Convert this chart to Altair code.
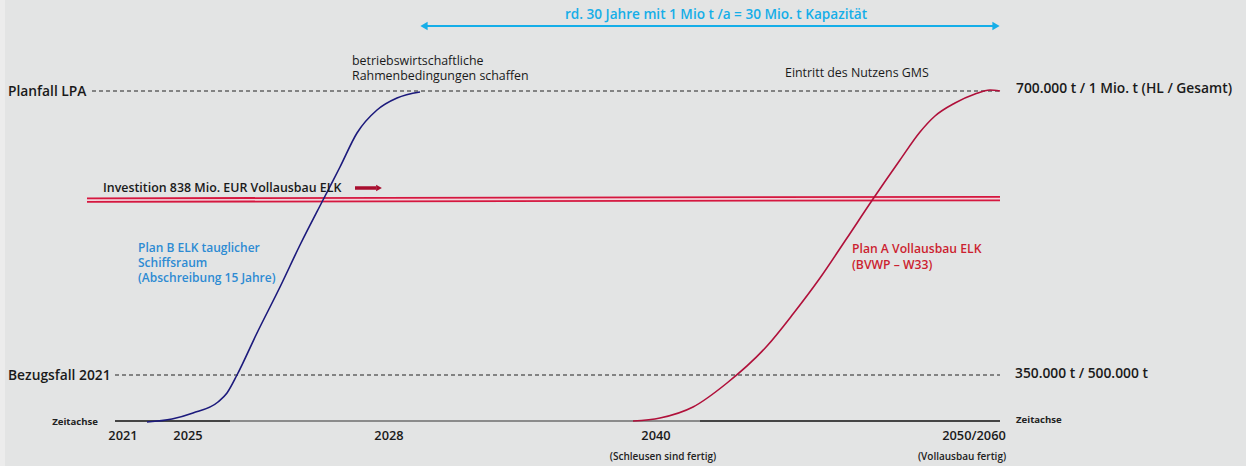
import altair as alt
import pandas as pd

# schematic coordinates (timeline units across, level units down)
planB_x = [147, 172, 193, 218, 227, 237, 257, 280, 300, 323, 340, 357, 377, 397, 420]
planB_y = [422, 419, 413, 402, 393, 375, 333, 287, 245, 200, 167, 133, 110, 98, 92]
planA_x = [633, 660, 693, 727, 767, 793, 820, 847, 873, 900, 920, 935, 955, 975, 990, 1000]
planA_y = [421, 418, 407, 383, 346, 314, 278, 238, 199, 160, 132, 116, 103, 94, 90, 91]

level_names = ["Planfall LPA", "Bezugsfall 2021"]
level_pos = [91, 375]
level_right = ["700.000 t / 1 Mio. t (HL / Gesamt)", "350.000 t / 500.000 t"]

year_labels = ["2021", "2025", "2028", "2040", "2050/2060"]
year_pos = [123, 188, 389, 656, 974]
year_notes = ["(Schleusen sind fertig)", "(Vollausbau fertig)"]
year_note_pos = [663, 962]

FONT = "Open Sans"
W, H = 1246, 466
xs = alt.Scale(domain=[0, W], nice=False, zero=False)
ys = alt.Scale(domain=[0, H], nice=False, zero=False, reverse=True)
X = lambda f="x": alt.X(f"{f}:Q", scale=xs, axis=None)
Y = lambda f="y": alt.Y(f"{f}:Q", scale=ys, axis=None)

layers = []

# light strip at the left edge
strip = pd.DataFrame({"x": [0], "x2": [5], "y": [0], "y2": [H]})
layers.append(alt.Chart(strip).mark_rect(color="#ececec").encode(
    x=X(), x2="x2", y=Y(), y2="y2"))

# dashed reference levels
dash = pd.DataFrame({"x": [92, 115], "x2": [1000, 1000], "y": level_pos})
layers.append(alt.Chart(dash).mark_rule(color="#222222", strokeWidth=1, strokeDash=[4, 3]).encode(
    x=X(), x2="x2", y=Y()))

# time axis (black ends, grey middle)
axis_seg = pd.DataFrame({"x": [115, 230, 700], "x2": [230, 700, 1000], "y": [421, 421, 421],
                         "c": ["#111111", "#6e6e6e", "#111111"]})
layers.append(alt.Chart(axis_seg).mark_rule(strokeWidth=1.3).encode(
    x=X(), x2="x2", y=Y(), color=alt.Color("c:N", scale=None)))

# investment double line
inv = pd.DataFrame({"x": [87, 1000], "y1": [198.3, 196.8], "y2": [201.8, 200.3], "ym": [200.05, 198.55]})
layers.append(alt.Chart(inv).mark_line(color="#f3d3da", strokeWidth=3).encode(x=X(), y=Y("ym")))
layers.append(alt.Chart(inv).mark_line(color="#d5173f", strokeWidth=1.8).encode(x=X(), y=Y("y1")))
layers.append(alt.Chart(inv).mark_line(color="#d5173f", strokeWidth=1.8).encode(x=X(), y=Y("y2")))

# curves
dfB = pd.DataFrame({"x": planB_x, "y": planB_y})
dfA = pd.DataFrame({"x": planA_x, "y": planA_y})
layers.append(alt.Chart(dfB).mark_line(color="#1c1a7c", strokeWidth=1.6, interpolate="monotone").encode(
    x=X(), y=Y()))
layers.append(alt.Chart(dfA).mark_line(color="#b0103a", strokeWidth=1.6, interpolate="monotone").encode(
    x=X(), y=Y()))

# cyan double arrow
cy = pd.DataFrame({"x": [426], "x2": [994], "y": [26]})
layers.append(alt.Chart(cy).mark_rule(color="#15aee8", strokeWidth=2).encode(x=X(), x2="x2", y=Y()))
heads = pd.DataFrame({"x": [424, 996], "y": [26, 26], "s": ["triangle-left", "triangle-right"]})
layers.append(alt.Chart(heads).mark_point(color="#15aee8", filled=True, opacity=1, size=70).encode(
    x=X(), y=Y(), shape=alt.Shape("s:N", scale=None)))

# dark red small arrow
ra = pd.DataFrame({"x": [355], "x2": [376], "y": [188]})
layers.append(alt.Chart(ra).mark_rule(color="#a80d2e", strokeWidth=3.5).encode(x=X(), x2="x2", y=Y()))
rh = pd.DataFrame({"x": [379], "y": [188]})
layers.append(alt.Chart(rh).mark_point(color="#a80d2e", filled=True, opacity=1, size=45,
                                       shape="triangle-right").encode(x=X(), y=Y()))

def text(df, **kw):
    base = dict(font=FONT, baseline="middle")
    base.update(kw)
    return alt.Chart(df).mark_text(**base).encode(x=X(), y=Y(), text="t:N")

# level labels
layers.append(text(pd.DataFrame({"x": [8, 8], "y": [92, 376], "t": level_names}),
                   align="left", fontSize=13.8, fontWeight=600, color="#1a1a1a"))
layers.append(text(pd.DataFrame({"x": [1016, 1015], "y": [89, 374], "t": level_right}),
                   align="left", fontSize=13.8, fontWeight=600, color="#1a1a1a"))

# Zeitachse labels
layers.append(text(pd.DataFrame({"x": [98], "y": [422], "t": ["Zeitachse"]}),
                   align="right", fontSize=9.6, fontWeight=700, color="#222222"))
layers.append(text(pd.DataFrame({"x": [1016], "y": [420], "t": ["Zeitachse"]}),
                   align="left", fontSize=9.6, fontWeight=700, color="#222222"))

# year ticks
layers.append(text(pd.DataFrame({"x": year_pos, "y": [436] * 5, "t": year_labels}),
                   align="center", fontSize=12.8, fontWeight=600, color="#1a1a1a"))
layers.append(text(pd.DataFrame({"x": year_note_pos, "y": [457, 457], "t": year_notes}),
                   align="center", fontSize=10, fontWeight=600, color="#222222"))

# annotations
layers.append(text(pd.DataFrame({"x": [716], "y": [15], "t": ["rd. 30 Jahre mit 1 Mio t /a = 30 Mio. t Kapazität"]}),
                   align="center", fontSize=13.6, fontWeight=600, color="#15aee8"))
layers.append(text(pd.DataFrame({"x": [352, 352], "y": [61, 76],
                                 "t": ["betriebswirtschaftliche", "Rahmenbedingungen schaffen"]}),
                   align="left", fontSize=12.4, fontWeight=500, color="#1a1a1a"))
layers.append(text(pd.DataFrame({"x": [785], "y": [73], "t": ["Eintritt des Nutzens GMS"]}),
                   align="left", fontSize=12.4, fontWeight=500, color="#1a1a1a"))
layers.append(text(pd.DataFrame({"x": [103], "y": [188], "t": ["Investition 838 Mio. EUR Vollausbau ELK"]}),
                   align="left", fontSize=12.4, fontWeight=600, color="#1a1a1a"))
layers.append(text(pd.DataFrame({"x": [138, 138, 138], "y": [248, 263, 278],
                                 "t": ["Plan B ELK tauglicher", "Schiffsraum", "(Abschreibung 15 Jahre)"]}),
                   align="left", fontSize=12, fontWeight=600, color="#2d8bd3"))
layers.append(text(pd.DataFrame({"x": [852, 852], "y": [249, 265],
                                 "t": ["Plan A Vollausbau ELK", "(BVWP – W33)"]}),
                   align="left", fontSize=12.2, fontWeight=600, color="#cc1f30"))

chart = alt.layer(*layers).properties(
    width=W, height=H, background="#e3e4e4", padding=0,
    autosize=alt.AutoSizeParams(type="none"),
).configure_view(stroke=None)

chart.save("out.html", embed_options={"renderer": "svg", "actions": False})
